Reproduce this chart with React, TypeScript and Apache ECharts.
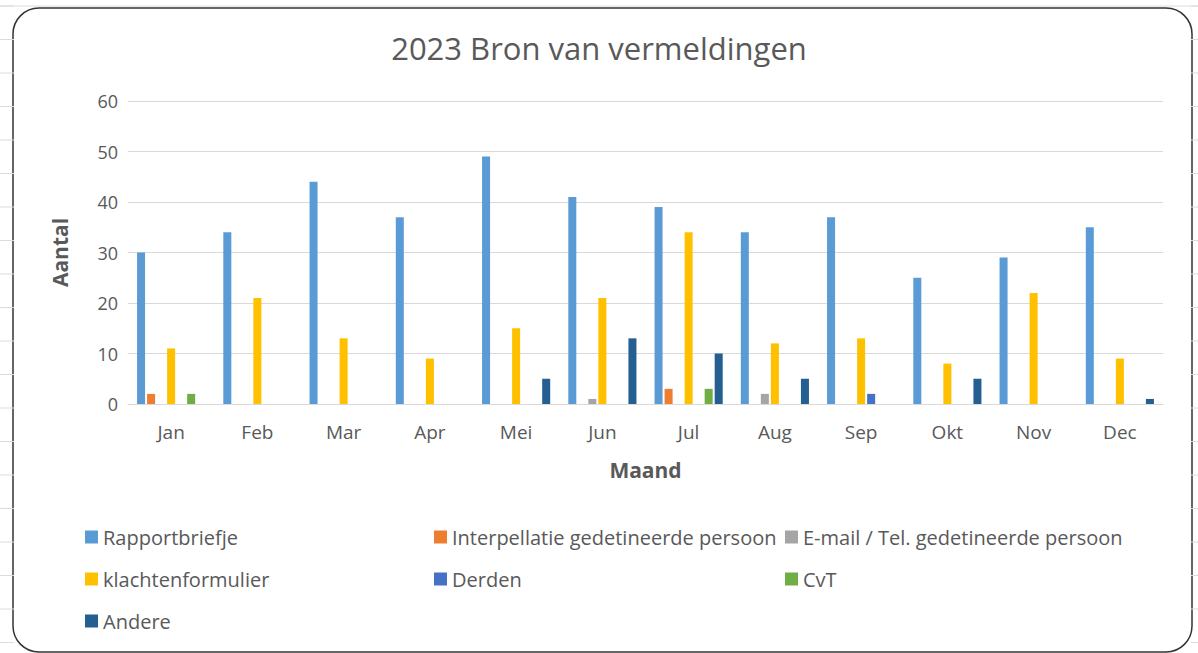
import React, { useEffect, useRef } from "react";
import * as echarts from "echarts";

const months = ["Jan", "Feb", "Mar", "Apr", "Mei", "Jun", "Jul", "Aug", "Sep", "Okt", "Nov", "Dec"];
const seriesNames = [
  "Rapportbriefje",
  "Interpellatie gedetineerde persoon",
  "E-mail / Tel. gedetineerde persoon",
  "klachtenformulier",
  "Derden",
  "CvT",
  "Andere",
];
const rapportbriefje = [30, 34, 44, 37, 49, 41, 39, 34, 37, 25, 29, 35];
const interpellatie = [2, 0, 0, 0, 0, 0, 3, 0, 0, 0, 0, 0];
const emailTel = [0, 0, 0, 0, 0, 1, 0, 2, 0, 0, 0, 0];
const klachtenformulier = [11, 21, 13, 9, 15, 21, 34, 12, 13, 8, 22, 9];
const derden = [0, 0, 0, 0, 0, 0, 0, 0, 2, 0, 0, 0];
const cvt = [2, 0, 0, 0, 0, 0, 3, 0, 0, 0, 0, 0];
const andere = [0, 0, 0, 0, 5, 13, 10, 5, 0, 5, 0, 1];
const colors = ["#5B9BD5", "#ED7D31", "#A5A5A5", "#FFC000", "#4472C4", "#70AD47", "#255E91"];
const yTicks = { min: 0, max: 60, interval: 10 };

const FONT = "'Open Sans', sans-serif";
const TXT = "#595959";

export default function App() {
  const ref = useRef<HTMLDivElement>(null);
  useEffect(() => {
    if (!ref.current) return;
    const chart = echarts.init(ref.current, undefined, { renderer: "svg" });
    const values = [rapportbriefje, interpellatie, emailTel, klachtenformulier, derden, cvt, andere];

    const sheetLines: any[] = [];
    for (let k = 0; k < 20; k++) {
      const y = 6 + 33.5 * k;
      sheetLines.push({
        type: "line",
        shape: { x1: 0, y1: y, x2: 14, y2: y },
        style: { stroke: "#dcdcdc", lineWidth: 1 },
        silent: true,
      });
      sheetLines.push({
        type: "line",
        shape: { x1: 1191, y1: y, x2: 1198, y2: y },
        style: { stroke: "#dcdcdc", lineWidth: 1 },
        silent: true,
      });
    }
    sheetLines.push({
      type: "line",
      shape: { x1: 0, y1: 6, x2: 1198, y2: 6 },
      style: { stroke: "#dcdcdc", lineWidth: 1 },
      silent: true,
    });

    const legendCommon = {
      orient: "vertical" as const,
      itemWidth: 13,
      itemHeight: 13,
      itemGap: 22,
      icon: "rect",
      textStyle: { fontFamily: FONT, fontSize: 20, color: TXT },
      selectedMode: false,
    };

    chart.setOption({
      animation: false,
      backgroundColor: "#ffffff",
      color: colors,
      title: {
        text: "2023 Bron van vermeldingen",
        left: "center",
        top: 27,
        textStyle: { fontFamily: FONT, fontSize: 31, fontWeight: "normal", color: TXT },
      },
      graphic: [
        ...sheetLines,
        {
          type: "rect",
          shape: { x: 13, y: 8, width: 1179, height: 644, r: 26 },
          style: { fill: "#ffffff", stroke: "#333333", lineWidth: 1.5 },
          z: -10,
          silent: true,
        },
      ],
      legend: [
        { ...legendCommon, left: 80, top: 522, data: [seriesNames[0], seriesNames[3], seriesNames[6]] },
        { ...legendCommon, left: 429, top: 522, data: [seriesNames[1], seriesNames[4]] },
        { ...legendCommon, left: 780, top: 522, data: [seriesNames[2], seriesNames[5]] },
      ],
      grid: { left: 128, right: 35, top: 101, bottom: 249, containLabel: false },
      xAxis: {
        type: "category",
        data: months,
        name: "Maand",
        nameLocation: "middle",
        nameGap: 55,
        nameTextStyle: { fontFamily: FONT, fontSize: 21, fontWeight: "bold", color: TXT },
        axisLine: { lineStyle: { color: "#d9d9d9", width: 1 } },
        axisTick: { show: false },
        axisLabel: { fontFamily: FONT, fontSize: 19, color: TXT, margin: 18 },
      },
      yAxis: {
        type: "value",
        min: yTicks.min,
        max: yTicks.max,
        interval: yTicks.interval,
        name: "Aantal",
        nameLocation: "middle",
        nameRotate: 90,
        nameGap: 58,
        nameTextStyle: { fontFamily: FONT, fontSize: 21, fontWeight: "bold", color: TXT },
        axisLine: { show: false },
        axisTick: { show: false },
        axisLabel: { fontFamily: FONT, fontSize: 18, color: TXT, margin: 10 },
        splitLine: { lineStyle: { color: "#d9d9d9", width: 1 } },
      },
      series: seriesNames.map((name, i) => ({
        name,
        type: "bar",
        data: values[i],
        barGap: "25%",
        barCategoryGap: "21%",
        itemStyle: { color: colors[i] },
      })),
    });
    return () => chart.dispose();
  }, []);
  return (
    <div
      ref={ref}
      style={{ position: "fixed", left: 0, top: 0, width: 1198, height: 653 }}
    />
  );
}
